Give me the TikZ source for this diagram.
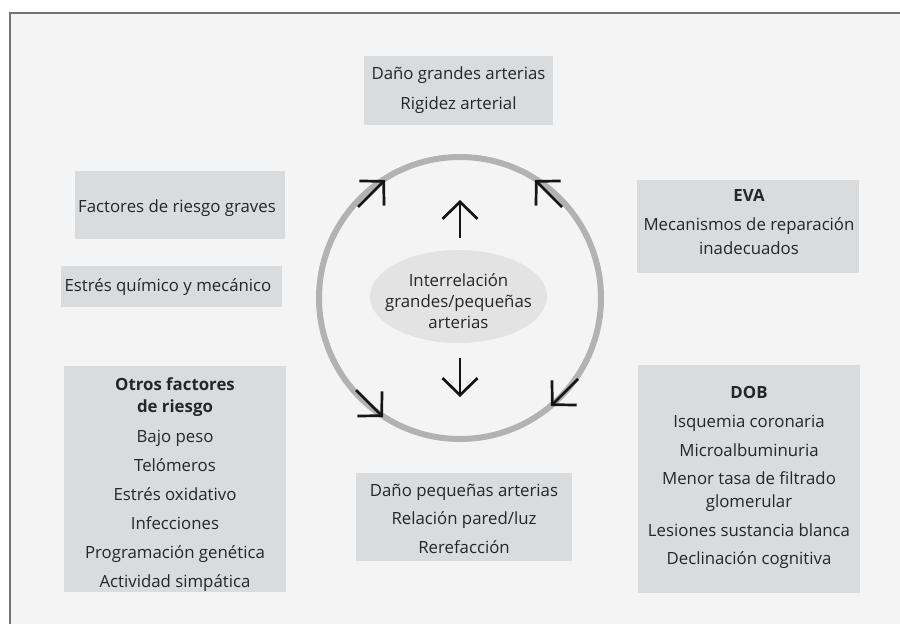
\documentclass[tikz,border=0pt]{standalone}
\usepackage{fontspec}
\setmainfont{Open Sans}
\usetikzlibrary{arrows.meta,shapes.geometric}
\definecolor{bggray}{HTML}{F4F4F4}
\definecolor{boxgray}{HTML}{DADBDD}
\definecolor{ringgray}{HTML}{B2B2B2}
\definecolor{ellgray}{HTML}{E3E3E3}
\definecolor{framegray}{HTML}{737373}
\definecolor{txtgray}{HTML}{262626}
\definecolor{arrowblack}{HTML}{151515}
\newcommand{\boxtext}[1]{\begin{tabular}[t]{@{}c@{}}#1\end{tabular}}
\begin{document}
\begin{tikzpicture}[x=1pt,y=-1pt,
  panel/.style={fill=boxgray, draw=none, inner sep=0pt},
  lbl/.style={anchor=base, inner sep=0pt, text=txtgray, font=\fontsize{16.8}{22}\selectfont},
  arr/.style={line width=2.7pt, draw=arrowblack, -{Straight Barb[length=17pt,width=35pt]}},
  ring/.style={draw=ringgray, line width=6pt},
  core/.style={ellipse, fill=ellgray, draw=none, inner sep=0pt, minimum width=177pt, minimum height=93pt}
]
\useasboundingbox (0,0) rectangle (900,624);
\fill[white] (0,0) rectangle (900,624);
\fill[bggray] (10,13) rectangle (900,624);
\draw[framegray, line width=2pt] (10,624) -- (10,13) -- (900,13);

% boxes
\node[panel, minimum width=189pt, minimum height=69pt] (topbox) at (458.5,90.5) {};
\node[panel, minimum width=210pt, minimum height=68pt] (graves) at (180,205) {};
\node[panel, minimum width=221pt, minimum height=41pt] (quimico) at (171.5,286.5) {};
\node[panel, minimum width=222pt, minimum height=226pt] (otros) at (175,479) {};
\node[panel, minimum width=216pt, minimum height=88pt] (pequenas) at (464,517) {};
\node[panel, minimum width=222pt, minimum height=93pt] (eva) at (748,226.5) {};
\node[panel, minimum width=222pt, minimum height=228pt] (dob) at (749,479) {};

% texts
\node[lbl] (ttop) at (458.5,79) {\boxtext{Daño grandes arterias\\[8pt]Rigidez arterial}};
\node[lbl] (tgraves) at (177,212) {\boxtext{Factores de riesgo graves}};
\node[lbl] (tquimico) at (168,291) {\boxtext{Estrés químico y mecánico}};
\node[lbl] (totros) at (175,390) {\boxtext{\textbf{Otros factores}\\\textbf{de riesgo}\\[8pt]Bajo peso\\[7pt]Telómeros\\[7pt]Estrés oxidativo\\[7pt]Infecciones\\[7pt]Programación genética\\[7pt]Actividad simpática}};
\node[lbl] (tpeq) at (464,496) {\boxtext{Daño pequeñas arterias\\[6pt]Relación pared/luz\\[7pt]Rerefacción}};
\node[lbl] (teva) at (749,201) {\boxtext{\textbf{EVA}\\[7pt]Mecanismos de reparación\\[2pt]inadecuados}};
\node[lbl] (tdob) at (749,398) {\boxtext{\textbf{DOB}\\[7pt]Isquemia coronaria\\[7pt]Microalbuminuria\\[6pt]Menor tasa de filtrado\\[1pt]glomerular\\[7pt]Lesiones sustancia blanca\\[6pt]Declinación cognitiva}};

% ring and core
\draw[ring] (460,298) circle (141);
\node[core] (coreell) at (458.5,296.5) {};
\node[lbl, font=\fontsize{16.8}{21}\selectfont] (tcore) at (458.5,286) {\boxtext{Interrelación\\grandes/pequeñas\\arterias}};

% arrows
\coordinate (upA) at (460,238);   \coordinate (upB) at (460,200);
\coordinate (dnA) at (460,358);   \coordinate (dnB) at (460,397);
\coordinate (tlA) at (358,207);   \coordinate (tlB) at (385,180);
\coordinate (trA) at (562,207);   \coordinate (trB) at (535,180);
\coordinate (brA) at (578,379);   \coordinate (brB) at (551,406);
\coordinate (blA) at (356,390);   \coordinate (blB) at (383,417);
\draw[arr] (upA) -- (upB);
\draw[arr] (dnA) -- (dnB);
\draw[arr] (tlA) -- (tlB);
\draw[arr] (trA) -- (trB);
\draw[arr] (brA) -- (brB);
\draw[arr] (blA) -- (blB);
\end{tikzpicture}
\end{document}
